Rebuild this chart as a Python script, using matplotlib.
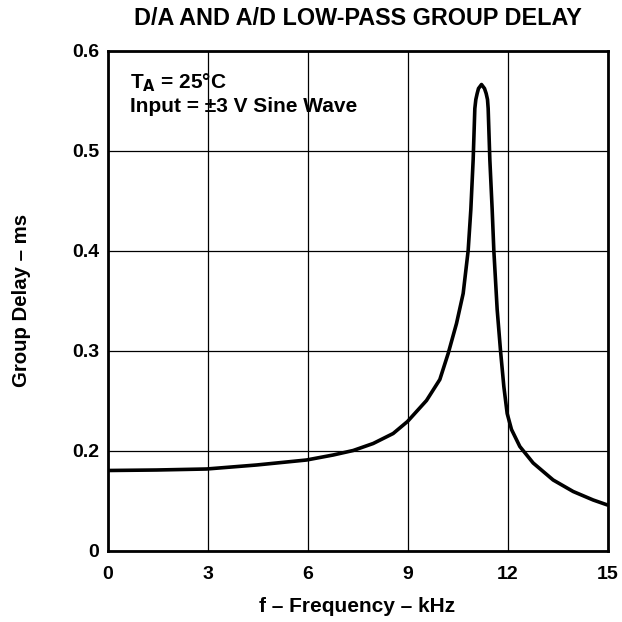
import numpy as np
import matplotlib
matplotlib.use("Agg")
import matplotlib.pyplot as plt

plt.rcParams['font.family'] = ['Liberation Sans', 'DejaVu Sans']

# Frequency (kHz) and group delay (ms)
freq = [0, 1.47, 2.97, 4.47, 5.97, 6.77, 7.37, 7.97, 8.57, 9.0, 9.57, 9.97,
        10.22, 10.47, 10.67, 10.82, 10.90, 10.97, 11.02, 11.05, 11.09, 11.13,
        11.22, 11.31, 11.36, 11.40, 11.42, 11.47, 11.54, 11.59, 11.69, 11.79,
        11.89, 11.99, 12.12, 12.37, 12.77, 13.37, 13.97, 14.57, 15]
delay = [0.160, 0.161, 0.163, 0.171, 0.181, 0.191, 0.200, 0.207, 0.217, 0.229, 0.250, 0.271,
         0.297, 0.327, 0.357, 0.400, 0.441, 0.491, 0.542, 0.551, 0.557, 0.562,
         0.566, 0.562, 0.557, 0.551, 0.542, 0.491, 0.441, 0.400, 0.341, 0.300,
         0.264, 0.237, 0.221, 0.204, 0.175, 0.141, 0.118, 0.101, 0.091]

xticks = [0, 3, 6, 9, 12, 15]
yticks = [0, 0.2, 0.3, 0.4, 0.5, 0.6]
ytick_labels = ['0', '0.2', '0.3', '0.4', '0.5', '0.6']


def fwd(v):
    v = np.asarray(v, dtype=float)
    return np.where(v <= 0.2, v * 5.0, 1.0 + (v - 0.2) * 10.0)


def inv(u):
    u = np.asarray(u, dtype=float)
    return np.where(u <= 1.0, u / 5.0, 0.2 + (u - 1.0) / 10.0)


fig = plt.figure(figsize=(6.22, 6.22), dpi=100)
ax = fig.add_axes([107.5 / 622, 1 - 550.5 / 622, 500 / 622, 500 / 622])
ax.set_yscale('function', functions=(fwd, inv))

ax.plot(freq, delay, color='black', lw=2.6, solid_capstyle='round',
        solid_joinstyle='round', zorder=3)

ax.set_xlim(0, 15)
ax.set_ylim(0, 0.6)
ax.set_xticks(xticks)
ax.set_xticklabels([str(t) for t in xticks])
ax.set_yticks(yticks)
ax.set_yticklabels(ytick_labels)
ax.minorticks_off()
ax.grid(True, color='black', lw=0.9)
ax.tick_params(axis='x', length=0, labelsize=14, pad=11)
ax.tick_params(axis='y', length=0, labelsize=14, pad=6)
for lab in ax.get_xticklabels() + ax.get_yticklabels():
    lab.set_fontweight('bold')
for sp in ax.spines.values():
    sp.set_linewidth(2)

ax.set_xlabel('f – Frequency – kHz', fontsize=15, fontweight='bold')
ax.xaxis.label.set_va('baseline')
ax.xaxis.set_label_coords(0.5, (550.5 - 611.7) / 500)
ax.set_ylabel('Group Delay – ms', fontsize=14.7, fontweight='bold')
ax.yaxis.label.set_va('center')
ax.yaxis.set_label_coords((22 - 107.5) / 500, 0.5)
ax.set_title('D/A AND A/D LOW-PASS GROUP DELAY', fontsize=16.8, fontweight='bold',
             y=(550.5 - 25) / 500, va='baseline', pad=0)

ax.text(0.045, (550.5 - 88.3) / 500, r'T$_\mathbf{A}$ = 25°C', transform=ax.transAxes,
        fontsize=15, fontweight='bold', va='baseline')
ax.text(0.045, (550.5 - 111.7) / 500, 'Input = ±3 V Sine Wave', transform=ax.transAxes,
        fontsize=15, fontweight='bold', va='baseline')

fig.savefig('out.png', dpi=100, facecolor='white')
